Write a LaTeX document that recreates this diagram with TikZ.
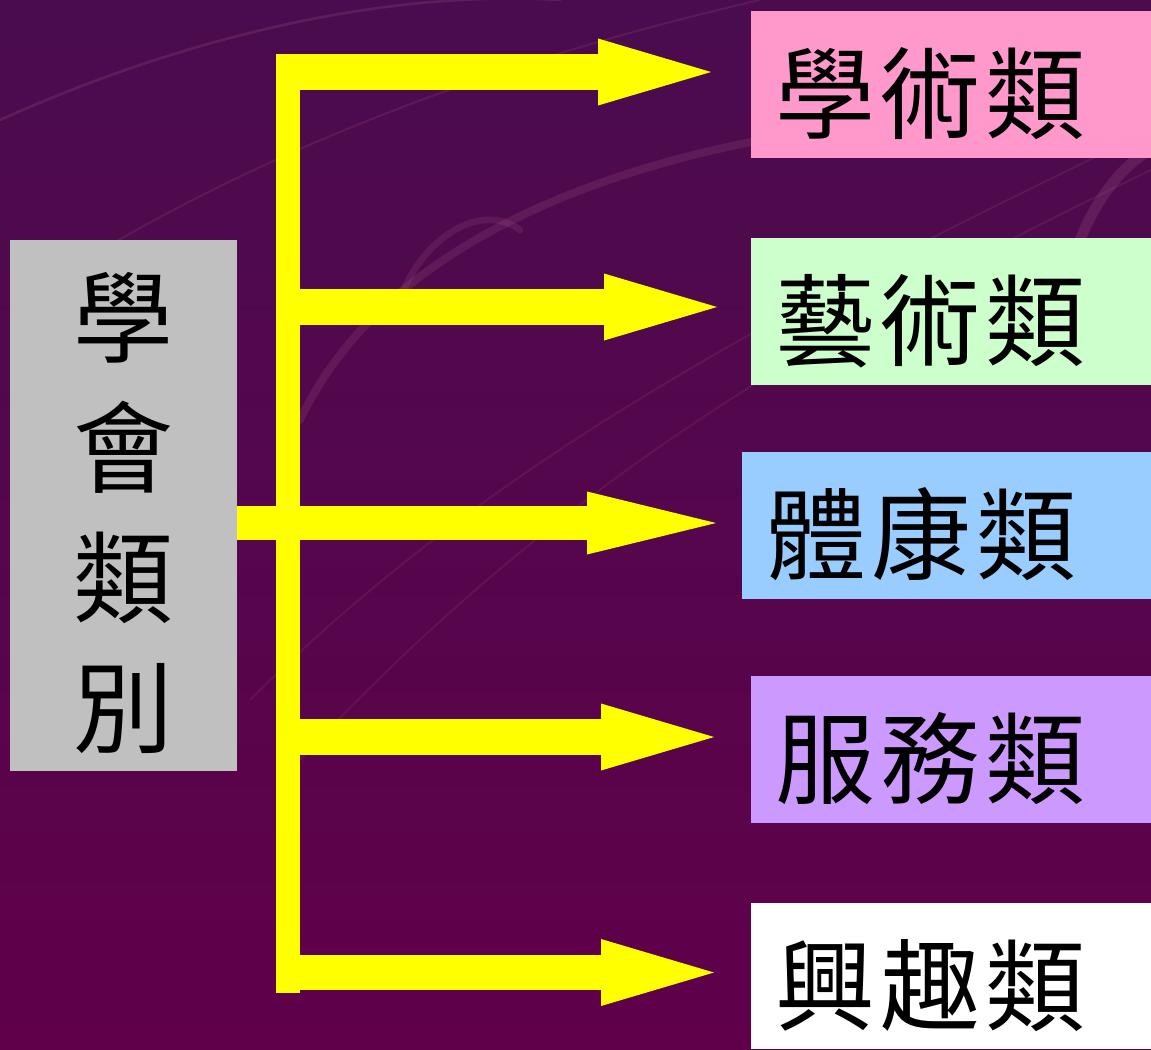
\documentclass[tikz,border=0pt]{standalone}
\usepackage{fontspec}
\newfontfamily\cjk{Noto Sans CJK TC}
\newfontfamily\cjkwide[LetterSpace=5]{Noto Sans CJK TC}
\usetikzlibrary{arrows.meta,calc}
\definecolor{bgtop}{RGB}{74,12,78}
\definecolor{bgbot}{RGB}{96,0,74}
\definecolor{streak}{RGB}{190,110,150}
\definecolor{pinkbox}{RGB}{255,153,204}
\definecolor{greenbox}{RGB}{204,255,204}
\definecolor{bluebox}{RGB}{153,204,255}
\definecolor{lilacbox}{RGB}{204,153,255}
\definecolor{graybox}{RGB}{192,192,192}
\definecolor{arrowyellow}{RGB}{255,255,0}
\begin{document}
\begin{tikzpicture}[x=0.75pt,y=-0.75pt,
  catbox/.style={rectangle, minimum width=300pt, minimum height=110.25pt,
    inner xsep=18pt, inner ysep=0pt, text width=264pt, align=left,
    text height=90pt, text depth=20.25pt,
    font=\cjkwide\fontsize{75}{80}\selectfont, text=black},
  flow/.style={draw=arrowyellow, line width=26.5pt,
    -{Triangle[length=84.75pt,width=50.25pt,line width=0pt]}},
  streakline/.style={draw=streak, line cap=round},
]
\useasboundingbox (0,0) rectangle (1151,1049);
\shade[top color=bgtop, bottom color=bgbot] (0,0) rectangle (1151,1049);
% faint background streaks
\begin{scope}
\draw[streakline, opacity=0.18, line width=2pt] (0,120) .. controls (200,30) and (400,-10) .. (560,0);
\draw[streakline, opacity=0.14, line width=1.5pt] (20,300) .. controls (250,150) and (500,60) .. (760,0);
\draw[streakline, opacity=0.16, line width=6pt] (300,420) .. controls (380,250) and (600,150) .. (900,120);
\draw[streakline, opacity=0.14, line width=5pt] (400,300) .. controls (420,240) and (480,200) .. (520,230);
\draw[streakline, opacity=0.12, line width=1.5pt] (250,700) .. controls (500,450) and (800,300) .. (1151,130);
\draw[streakline, opacity=0.12, line width=1.5pt] (300,760) .. controls (560,480) and (820,330) .. (1151,170);
\draw[streakline, opacity=0.18, line width=8pt] (1080,240) .. controls (1100,190) and (1130,160) .. (1151,150);
\end{scope}
% source box
\node[fill=graybox, minimum width=170.25pt, minimum height=398.25pt, inner sep=0pt]
  (src) at (123.5,505.5) {};
\node[inner sep=0pt, align=center, font=\cjk\fontsize{75}{97.5}\selectfont, text=black]
  (srctext) at ([yshift=-6pt]src.center) {學\\會\\類\\別};
% category boxes
\node[catbox, fill=pinkbox] (c1) at (951,84.5) {學術類};
\node[catbox, fill=greenbox] (c2) at (951,311.5) {藝術類};
\node[catbox, fill=bluebox, minimum width=306.75pt, text width=270.75pt] (c3) at (946.5,525.5) {體康類};
\node[catbox, fill=lilacbox] (c4) at (951,749.5) {服務類};
\node[catbox, fill=white, minimum height=109.5pt, text depth=19.5pt] (c5) at (951,976) {興趣類};
% vertical bar
\fill[arrowyellow] (276,54) rectangle (300,993);
% branch points and tips
\coordinate (b1) at (276,72);
\coordinate (b2) at (276,307);
\coordinate (b4) at (276,737);
\coordinate (b5) at (276,972.5);
\coordinate (t1) at (711,72);
\coordinate (t2) at (717,307);
\coordinate (t3) at (716,523);
\coordinate (t4) at (714,737);
\coordinate (t5) at (714,972.5);
\draw[flow] (b1) -- (t1);
\draw[flow] (b2) -- (t2);
\draw[draw=arrowyellow, line width=25pt,
  -{Triangle[length=96.75pt,width=47.25pt,line width=0pt]}] (src.east |- t3) -- (t3);
\draw[flow] (b4) -- (t4);
\draw[flow] (b5) -- (t5);
\end{tikzpicture}
\end{document}
